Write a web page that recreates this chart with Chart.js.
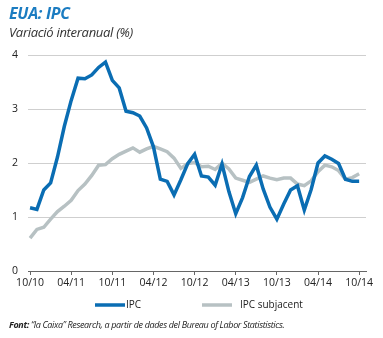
<!DOCTYPE html>
<html>
<head>
<meta charset="utf-8">
<script src="https://cdn.jsdelivr.net/npm/chart.js@4/dist/chart.umd.min.js"></script>
<style>
    body { margin: 0; background: #fff; }
    #wrap { position: relative; width: 383px; height: 338px; overflow: hidden; }
    #chart_ipc { position: absolute; left: 0; top: 0; }
    .txt { position: absolute; font-family: "Open Sans", sans-serif; font-style: italic; white-space: nowrap; }
    #title { left: 9px; top: 2px; font-size: 16px; font-weight: 700; color: #1b7cc1; letter-spacing: -0.3px; }
    #subtitle { left: 9px; top: 23px; font-size: 13px; color: #333; letter-spacing: -0.3px; }
    #footer { left: 9px; top: 318px; font-size: 9px; color: #222; letter-spacing: -0.35px; }
</style>
</head>
<body>
<div id="wrap">
    <canvas id="chart_ipc" width="383" height="338"></canvas>
    <div class="txt" id="title">EUA: IPC</div>
    <div class="txt" id="subtitle">Variació interanual (%)</div>
    <div class="txt" id="footer"><b>Font:</b> “la Caixa” Research, a partir de dades del Bureau of Labor Statististics.</div>
</div>
<script>
//monthly data, 10/10 .. 10/14
var tick_labels = ["10/10", "04/11", "10/11", "04/12", "10/12", "04/13", "10/13", "04/14", "10/14"];
var ipc = [1.17, 1.14, 1.50,
    1.63, 2.11, 2.68, 3.16, 3.57, 3.56, 3.63, 3.77, 3.87, 3.53, 3.39, 2.96,
    2.93, 2.87, 2.65, 2.30, 1.70, 1.66, 1.41, 1.69, 1.99, 2.16, 1.76, 1.74,
    1.59, 1.98, 1.47, 1.06, 1.36, 1.75, 1.96, 1.52, 1.18, 0.96, 1.24, 1.50,
    1.58, 1.13, 1.51, 2.00, 2.13, 2.07, 1.99, 1.70, 1.66, 1.66];
var ipc_subjacent = [0.61, 0.77, 0.81,
    0.96, 1.10, 1.20, 1.31, 1.49, 1.61, 1.77, 1.96, 1.97, 2.08, 2.16, 2.22,
    2.28, 2.20, 2.26, 2.31, 2.26, 2.21, 2.09, 1.90, 1.99, 2.01, 1.93, 1.94,
    1.88, 2.00, 1.89, 1.72, 1.68, 1.64, 1.70, 1.76, 1.72, 1.69, 1.72, 1.72,
    1.61, 1.58, 1.67, 1.84, 1.96, 1.93, 1.86, 1.70, 1.73, 1.80];
var series_names = ["IPC", "IPC subjacent"];
var series_colors = ["#0a6db3", "#b7c1c3"];
var months_per_tick = 6;

function toPoints(arr) {
    return arr.map(function (v, i) { return { x: i, y: v }; });
}

//draws the legend under the axis
var bottomLegend = {
    id: 'bottomLegend',
    afterDraw: function (chart) {
        var ctx = chart.ctx;
        var pos = [[95, 126], [202, 240]];
        ctx.save();
        ctx.font = '10px "Open Sans", sans-serif';
        ctx.textBaseline = 'middle';
        chart.data.datasets.forEach(function (ds, i) {
            ctx.strokeStyle = ds.borderColor;
            ctx.lineWidth = 3.5;
            ctx.beginPath();
            ctx.moveTo(pos[i][0], 305);
            ctx.lineTo(pos[i][0] + 30, 305);
            ctx.stroke();
            ctx.fillStyle = '#222';
            ctx.fillText(ds.label, pos[i][1], 305);
        });
        ctx.restore();
    }
};

new Chart(document.getElementById("chart_ipc"), {
    type: 'line',
    data: {
        datasets: [{
            label: series_names[0],
            data: toPoints(ipc),
            borderColor: series_colors[0],
            borderWidth: 3.5,
            pointRadius: 0,
            tension: 0,
            fill: false
        }, {
            label: series_names[1],
            data: toPoints(ipc_subjacent),
            borderColor: series_colors[1],
            borderWidth: 3.5,
            pointRadius: 0,
            tension: 0,
            fill: false
        }]
    },
    options: {
        responsive: false,
        animation: false,
        layout: { padding: { left: 0, top: 55, right: 17, bottom: 0 } },
        plugins: { legend: { display: false }, tooltip: { enabled: false } },
        scales: {
            x: {
                type: 'linear',
                min: -0.3,
                max: 49,
                afterBuildTicks: function (scale) {
                    scale.ticks = tick_labels.map(function (l, i) { return { value: i * months_per_tick }; });
                },
                afterFit: function (scale) { scale.height = 67; },
                grid: { drawOnChartArea: false, drawTicks: true, tickLength: 4, color: '#666', lineWidth: 1 },
                border: { display: true, color: '#666', width: 1 },
                ticks: {
                    autoSkip: false,
                    maxRotation: 0,
                    padding: 2,
                    color: '#222',
                    font: { family: '"Open Sans", sans-serif', size: 10.5 },
                    callback: function (v) { return tick_labels[Math.round(v / months_per_tick)]; }
                }
            },
            y: {
                min: 0,
                max: 4,
                afterFit: function (scale) { scale.width = 28; },
                grid: { color: '#cfcfcf', lineWidth: 1, drawTicks: false },
                border: { display: false },
                ticks: {
                    stepSize: 1,
                    padding: 10,
                    color: '#222',
                    font: { family: '"Open Sans", sans-serif', size: 10.5 }
                }
            }
        }
    },
    plugins: [bottomLegend]
});
</script>
</body>
</html>
